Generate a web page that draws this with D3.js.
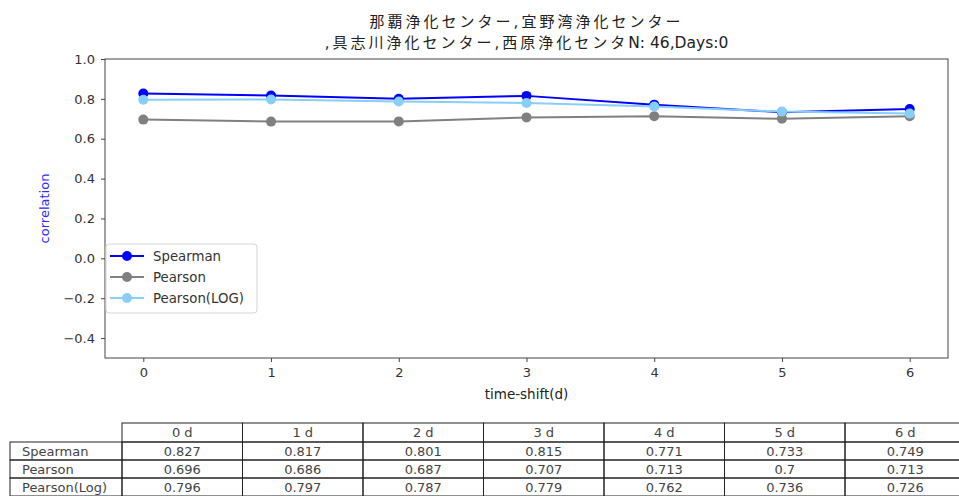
<!DOCTYPE html>
<html>
<head>
<meta charset="utf-8">
<script src="https://cdn.jsdelivr.net/npm/d3@7"></script>
<style>
  body { margin: 0; background: #fff; }
  svg { display: block; font-family: "DejaVu Sans", "Noto Sans CJK JP", sans-serif; }
</style>
</head>
<body>
<svg id="chart" width="959" height="496"></svg>
<script>
// Correlation by time shift for the combined treatment centers
const shifts = [0, 1, 2, 3, 4, 5, 6];
const spearman = [0.827, 0.817, 0.801, 0.815, 0.771, 0.733, 0.749];
const pearson = [0.696, 0.686, 0.687, 0.707, 0.713, 0.7, 0.713];
const pearsonLog = [0.796, 0.797, 0.787, 0.779, 0.762, 0.736, 0.726];
const yTicks = [-0.4, -0.2, 0.0, 0.2, 0.4, 0.6, 0.8, 1.0];
const titleLines = ["那覇浄化センター,宜野湾浄化センター", ",具志川浄化センター,西原浄化センタN: 46,Days:0"];
const seriesNames = ["Spearman", "Pearson", "Pearson(LOG)"];
const tableRowNames = ["Spearman", "Pearson", "Pearson(Log)"];
const tableHeaders = shifts.map(d => d + " d");

const series = [
  { name: seriesNames[0], values: spearman, color: "#0000ff" },
  { name: seriesNames[1], values: pearson, color: "#808080" },
  { name: seriesNames[2], values: pearsonLog, color: "#87cefa" }
];

const svg = d3.select("#chart");
const plot = { left: 105, right: 948, top: 59, bottom: 358 };

const x = d3.scaleLinear().domain([-0.3, 6.3]).range([plot.left, plot.right]);
const y = d3.scaleLinear().domain([-0.5, 1.0]).range([plot.bottom, plot.top]);

// Title: CJK runs get a little extra spacing, Latin runs stay tight
const cx = (plot.left + plot.right) / 2;
const title = svg.append("text")
  .attr("text-anchor", "middle")
  .attr("fill", "#222");
titleLines.forEach((t, i) => {
  const runs = t.match(/[\u3000-\u9fff\uff00-\uffef,]+|[^\u3000-\u9fff\uff00-\uffef,]+/g);
  runs.forEach((run, j) => {
    const isCJK = /[\u3000-\u9fff]/.test(run);
    const sp = title.append("tspan")
      .attr("font-size", isCJK ? 15 : 15.5)
      .attr("letter-spacing", isCJK ? 3 : 0)
      .text(run);
    if (j === 0) sp.attr("x", cx).attr("y", 27 + i * 21);
  });
});

// Axes
const xAxis = d3.axisBottom(x).tickValues(shifts).tickFormat(d3.format("d")).tickSizeOuter(0).tickSize(4).tickPadding(6);
const yAxis = d3.axisLeft(y).tickValues(yTicks).tickFormat(d => d.toFixed(1).replace("-", "\u2212")).tickSizeOuter(0).tickSize(4).tickPadding(6);

const gx = svg.append("g").attr("transform", `translate(0,${plot.bottom})`).call(xAxis);
const gy = svg.append("g").attr("transform", `translate(${plot.left},0)`).call(yAxis);
[gx, gy].forEach(g => {
  g.select(".domain").remove();
  g.selectAll("line").attr("stroke", "#444");
  g.selectAll("text").attr("font-size", 13).attr("fill", "#333")
    .attr("font-family", "DejaVu Sans");
});

// Plot frame
svg.append("rect")
  .attr("x", plot.left).attr("y", plot.top)
  .attr("width", plot.right - plot.left).attr("height", plot.bottom - plot.top)
  .attr("fill", "none").attr("stroke", "#444").attr("stroke-width", 1);

// Axis labels
svg.append("text")
  .attr("x", x(3)).attr("y", 399)
  .attr("text-anchor", "middle").attr("font-size", 13.5).attr("fill", "#222")
  .text("time-shift(d)");
svg.append("text")
  .attr("transform", `translate(49,${(plot.top + plot.bottom) / 2}) rotate(-90)`)
  .attr("text-anchor", "middle").attr("font-size", 13).attr("fill", "#2b2bff")
  .text("correlation");

// Lines and markers
const line = d3.line().x((d, i) => x(shifts[i])).y(d => y(d));
series.forEach(s => {
  svg.append("path").datum(s.values)
    .attr("d", line).attr("fill", "none")
    .attr("stroke", s.color).attr("stroke-width", 2);
  svg.append("g").selectAll("circle").data(s.values).join("circle")
    .attr("cx", (d, i) => x(shifts[i])).attr("cy", d => y(d))
    .attr("r", 5).attr("fill", s.color);
});

// Legend
const legend = svg.append("g").attr("transform", "translate(106,244)");
legend.append("rect")
  .attr("width", 151).attr("height", 69).attr("rx", 3)
  .attr("fill", "rgba(255,255,255,0.85)").attr("stroke", "#d6d6d6");
series.forEach((s, i) => {
  const ly = 12 + i * 21;
  legend.append("line").attr("x1", 4).attr("x2", 38).attr("y1", ly).attr("y2", ly)
    .attr("stroke", s.color).attr("stroke-width", 2);
  legend.append("circle").attr("cx", 21).attr("cy", ly).attr("r", 5).attr("fill", s.color);
  legend.append("text").attr("x", 47).attr("y", ly + 5)
    .attr("font-size", 13.3).attr("fill", "#333").text(s.name);
});

// Value table
const table = { left: 10, labelRight: 122, colW: 120.5, top: 423, headerH: 19, rowH: 18 };
const tbl = svg.append("g").attr("font-size", 13).attr("fill", "#444");
const colX = i => table.labelRight + i * table.colW;
const rowValues = [spearman, pearson, pearsonLog];

// header cells
tableHeaders.forEach((h, i) => {
  tbl.append("rect").attr("x", colX(i)).attr("y", table.top)
    .attr("width", table.colW).attr("height", table.headerH)
    .attr("fill", "none").attr("stroke", "#222");
  tbl.append("text").attr("x", colX(i) + table.colW / 2).attr("y", table.top + 14)
    .attr("text-anchor", "middle").text(h);
});
// body rows
rowValues.forEach((vals, r) => {
  const ry = table.top + table.headerH + r * table.rowH;
  tbl.append("rect").attr("x", table.left).attr("y", ry)
    .attr("width", table.labelRight - table.left).attr("height", table.rowH)
    .attr("fill", "none").attr("stroke", "#222");
  tbl.append("text").attr("x", table.left + 12).attr("y", ry + 13.5).text(tableRowNames[r]);
  vals.forEach((v, i) => {
    tbl.append("rect").attr("x", colX(i)).attr("y", ry)
      .attr("width", table.colW).attr("height", table.rowH)
      .attr("fill", "none").attr("stroke", "#222");
    tbl.append("text").attr("x", colX(i) + table.colW / 2).attr("y", ry + 13.5)
      .attr("text-anchor", "middle").text(String(v));
  });
});
</script>
</body>
</html>
